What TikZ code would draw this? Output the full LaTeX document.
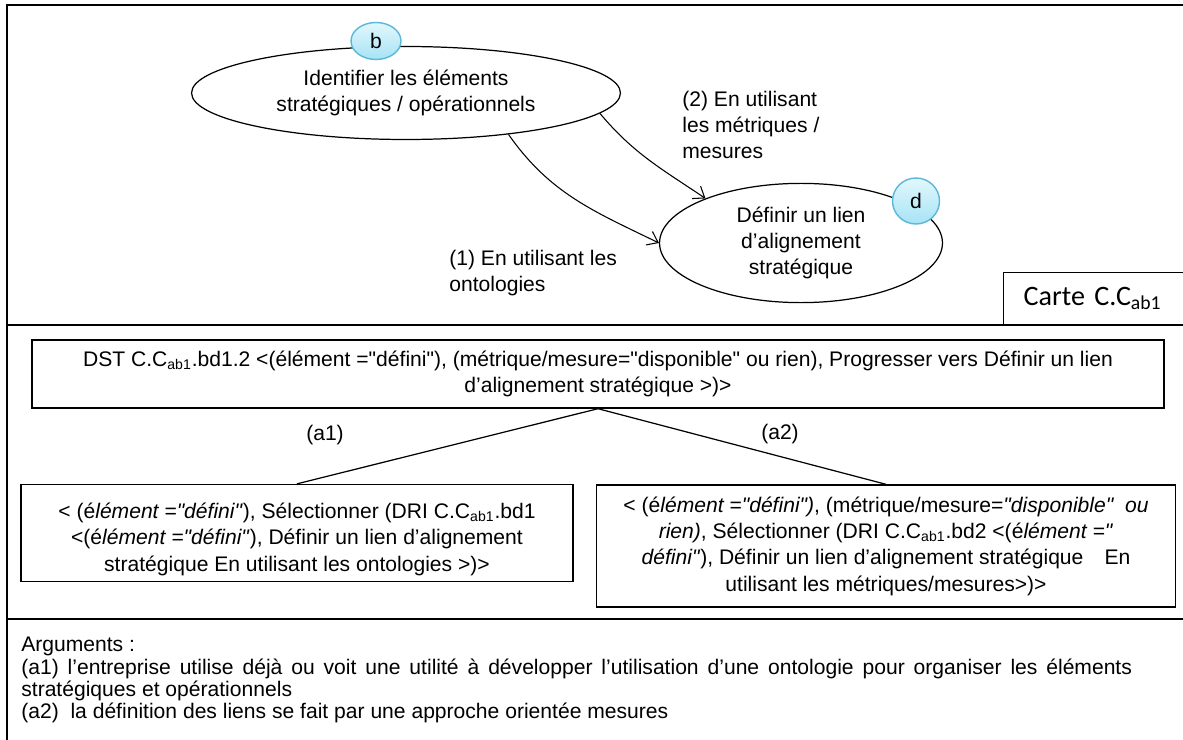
\documentclass[tikz,border=0pt]{standalone}
\usepackage{fontspec}
\setmainfont{Liberation Sans}[Ligatures=TeXOff]
\newfontfamily\cartefont{Carlito}
\usetikzlibrary{arrows.meta,shapes.geometric}

\definecolor{bulletop}{HTML}{E2F7FD}
\definecolor{bullebas}{HTML}{A6E3F5}
\definecolor{bulletrait}{HTML}{5AB8D6}

\tikzset{
    cadre/.style={line width=1.1pt},
    intention/.style={draw,ellipse,line width=0.7pt,align=center},
    bulle/.style={draw=bulletrait,ellipse,line width=0.8pt,top color=bulletop,bottom color=bullebas,inner sep=0pt},
    boite/.style={draw,line width=0.8pt,align=center},
    fleche/.style={line width=0.6pt,-{Straight Barb[length=2mm,width=3mm]}},
    etiquette/.style={align=left,inner sep=0pt,anchor=west}
}

\begin{document}
\begin{tikzpicture}[x=0.02cm,y=-0.02cm,font=\fontsize{12}{15}\selectfont]

\useasboundingbox (0,0) rectangle (1183,740);

% Cadre
\draw[cadre] (1190,5) -- (7,5) -- (7,745);
\foreach \y in {325,619}
{
    \draw[cadre] (7,\y) -- (1190,\y);
}

% Carte
\node[intention,minimum width=8.58cm,minimum height=1.86cm] (identifier) at (406,93)
{Identifier les éléments\\stratégiques / opérationnels};
\node[intention,minimum width=5.66cm,minimum height=2.16cm] (definir) at (801,243)
{Définir un lien\\d’alignement\\stratégique};

\node[bulle,minimum width=1.0cm,minimum height=0.74cm] (bulleb) at (376,41) {b};
\node[bulle,minimum width=0.94cm,minimum height=0.92cm] (bulled) at (916,201) {d};

\draw[fleche] (identifier.-22) to[out=-55,in=154] (definir.west);
\draw[fleche] (identifier.-6) to[out=-50,in=146] (definir.155);

\node[etiquette] (ontologies) at (449,273)
{(1) En utilisant les\\ontologies};
\node[etiquette] (metriques) at (682,125)
{(2) En utilisant\\les métriques /\\mesures};

\node[draw,line width=0.8pt,anchor=south west,minimum width=4cm,minimum height=1.04cm,
    inner xsep=0.4cm,text width=3.2cm,align=left,font=\cartefont\fontsize{16}{18}\selectfont] (carte) at (1003,325)
{Carte C.C\textsubscript{ab1}};

% Arbre de choix
\node[boite,minimum width=22.64cm,minimum height=1.36cm] (dst) at (598,374)
{DST C.C\textsubscript{ab1}.bd1.2 <(élément ="défini"), (métrique/mesure="disponible" ou rien), Progresser vers Définir un lien\\d’alignement stratégique >)>};

\node[boite,minimum width=11.04cm,minimum height=1.9cm] (dri1) at (297,533)
{\rule{0pt}{16pt}< (é\textit{lément ="défini"}), Sélectionner (DRI C.C\textsubscript{ab1}.bd1\\
<(é\textit{lément ="défini"}), Définir un lien d’alignement\\
stratégique En utilisant les ontologies >)>};

\node[boite,minimum width=11.58cm,minimum height=2.44cm] (dri2) at (886,546)
{< (é\textit{lément ="défini")}, (métrique/mesure=\textit{"disponible"\ \ ou}\\
\textit{rien)}, Sélectionner (DRI C.C\textsubscript{ab1}.bd2 <(é\textit{lément ="}\\
\textit{défini"}), Définir un lien d’alignement stratégique\quad En\\
utilisant les métriques/mesures>)>};

\draw[line width=0.7pt] (dst.south) -- (dri1.north);
\draw[line width=0.7pt] (dst.south) -- (dri2.north);

\node (a1) at (325,435) {(a1)};
\node (a2) at (780,434) {(a2)};

% Arguments
\node[align=left,inner sep=0pt,anchor=north west,font=\fontsize{12}{12.7}\selectfont] (arguments) at (21,637)
{Arguments :\\
\makebox[22.22cm][s]{(a1) l’entreprise utilise déjà ou voit une utilité à développer l’utilisation d’une ontologie pour organiser les éléments}\\
stratégiques et opérationnels\\
(a2)\ \ la définition des liens se fait par une approche orientée mesures};

\end{tikzpicture}
\end{document}
